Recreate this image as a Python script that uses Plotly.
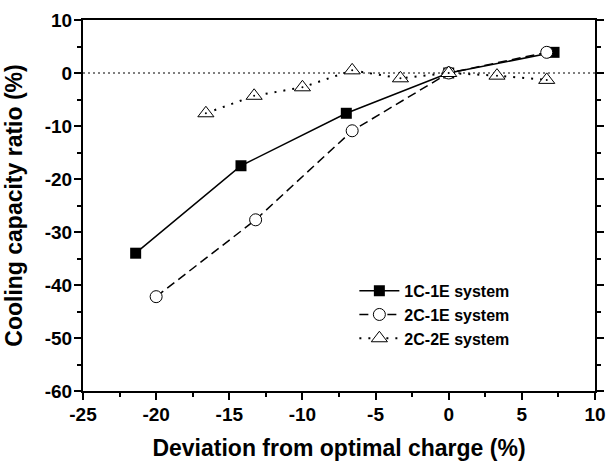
import plotly.graph_objects as go

# Data
x_1c1e = [-21.4, -14.2, -7.0, 0.0, 7.2]
y_1c1e = [-34.0, -17.5, -7.6, 0.0, 3.9]

x_2c1e = [-20.0, -13.2, -6.6, 0.0, 6.7]
y_2c1e = [-42.2, -27.7, -10.9, 0.0, 3.9]

x_2c2e = [-16.6, -13.3, -10.0, -6.6, -3.3, 0.0, 3.3, 6.7]
y_2c2e = [-7.6, -4.3, -2.7, 0.5, -1.0, 0.0, -0.5, -1.3]

names = ["1C-1E system", "2C-1E system", "2C-2E system"]

x_tickvals = [-25, -20, -15, -10, -5, 0, 5, 10]
x_ticklabels = ["-25", "-20", "-15", "-10", "-5", "0", "5", "10"]
y_tickvals = [-60, -50, -40, -30, -20, -10, 0, 10]
y_ticklabels = ["-60", "-50", "-40", "-30", "-20", "-10", "0", "10"]

FONT = "Liberation Sans, Arial, sans-serif"

fig = go.Figure()

fig.add_trace(go.Scatter(
    x=x_1c1e, y=y_1c1e, name=names[0], mode="lines+markers",
    line=dict(color="black", width=1.5),
    marker=dict(symbol="square", size=11, color="black"),
))
fig.add_trace(go.Scatter(
    x=x_2c1e, y=y_2c1e, name=names[1], mode="lines+markers",
    line=dict(color="black", width=1.5, dash="9px,5px"),
    marker=dict(symbol="circle", size=12, color="white",
                line=dict(color="black", width=1)),
))
fig.add_trace(go.Scatter(
    x=x_2c2e, y=y_2c2e, name=names[2], mode="lines+markers",
    line=dict(color="black", width=2, dash="2px,7px"),
    marker=dict(symbol="triangle-up", size=14, color="white",
                line=dict(color="black", width=1)),
))
fig.add_trace(go.Scatter(
    x=x_2c2e, y=y_2c2e, mode="markers", showlegend=False, hoverinfo="skip",
    marker=dict(symbol="circle", size=2, color="black"),
))

# dotted reference line at zero
fig.add_shape(type="line", xref="paper", yref="y", x0=0, x1=1, y0=0, y1=0,
              line=dict(color="black", width=1, dash="2px,3px"), layer="below")

axis_common = dict(
    showgrid=False, zeroline=False, showline=True, linecolor="black",
    linewidth=2, ticks="outside", ticklen=7, tickwidth=2, tickcolor="black",
    tickfont=dict(family=FONT, size=19, color="black", weight=700),
    tickmode="array", automargin=False, ticklabelstandoff=-2,
)

fig.update_xaxes(
    range=[-25, 10], mirror=True,
    tickvals=x_tickvals, ticktext=["<b>%s</b>" % t for t in x_ticklabels],
    minor=dict(dtick=2.5, tick0=-25, ticks="outside", ticklen=4, tickwidth=2,
               tickcolor="black"),
    title=dict(text="<b>Deviation from optimal charge (%)</b>",
               font=dict(family=FONT, size=23, color="black"), standoff=16),
    **axis_common,
)
fig.update_yaxes(
    range=[-60, 10], mirror="ticks",
    tickvals=y_tickvals, ticktext=["<b>%s</b>" % t for t in y_ticklabels],
    minor=dict(dtick=5, tick0=-60, ticks="outside", ticklen=4, tickwidth=2,
               tickcolor="black"),
    title=dict(text="<b>Cooling capacity ratio (%)</b>",
               font=dict(family=FONT, size=23, color="black"), standoff=16),
    **axis_common,
)

fig.update_layout(
    width=610, height=461,
    margin=dict(l=83, r=15, t=20, b=70),
    plot_bgcolor="white", paper_bgcolor="white",
    legend=dict(
        x=0.53, y=0.316, xanchor="left", yanchor="top",
        bgcolor="rgba(0,0,0,0)", borderwidth=0,
        font=dict(family=FONT, size=16, color="black", weight="bold"),
        tracegroupgap=0, itemwidth=40,
    ),
)

fig.write_html("out.html", config={"displayModeBar": False},
               post_script="document.body.style.margin='0';")
